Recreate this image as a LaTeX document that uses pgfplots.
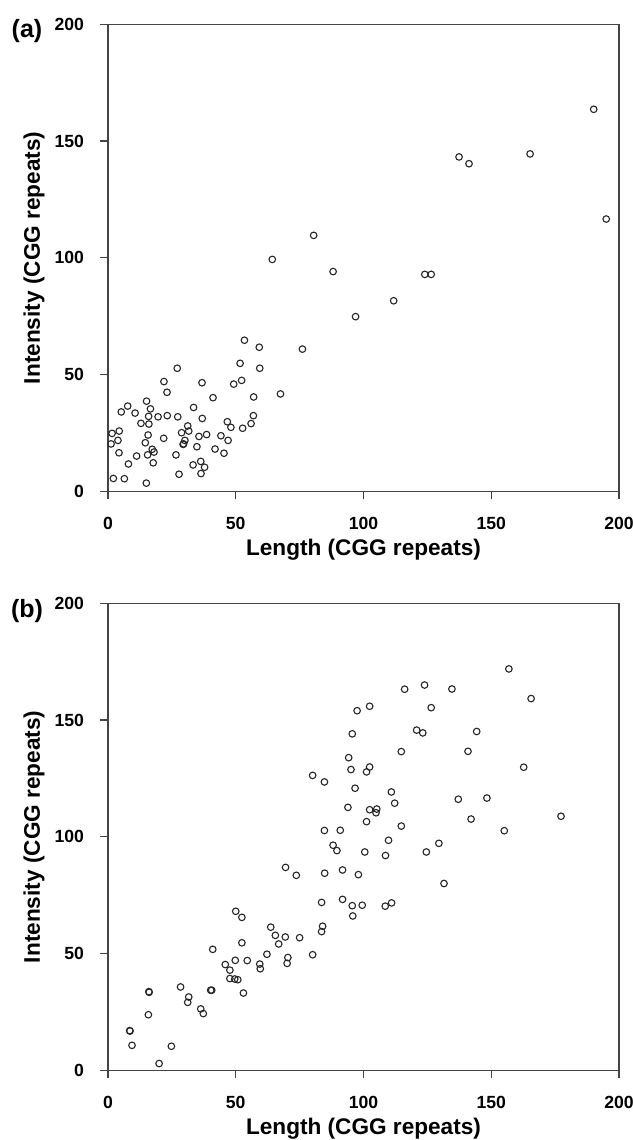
\documentclass[border=0pt]{standalone}
\usepackage{fontspec}
\setmainfont{Liberation Sans}
\usepackage{pgfplots}
\pgfplotsset{compat=1.18}
\definecolor{framegray}{HTML}{444444}

\pgfplotsset{
  cggpanel/.style={
    scale only axis,
    width=255.5pt, height=233.5pt,
    xmin=0, xmax=200, ymin=0, ymax=200,
    xtick={0,50,100,150,200}, ytick={0,50,100,150,200},
    xtick pos=left, ytick pos=left,
    tick align=outside, major tick length=4pt,
    axis line style={framegray, line width=0.6pt},
    every tick/.style={framegray, line width=0.6pt},
    /pgf/number format/assume math mode=true,
    tick label style={font=\fontsize{8.8}{10}\selectfont\bfseries},
    xticklabel style={anchor=base, yshift=-15.2pt},
    yticklabel style={anchor=east, xshift=-4.5pt},
    label style={font=\fontsize{11.3}{13}\selectfont\bfseries},
    xlabel style={at={(axis description cs:0.5,-0.1366)}, anchor=base},
    ylabel style={at={(axis description cs:-0.1331,0.5)}, anchor=base},
    xlabel={Length (CGG repeats)},
    ylabel={Intensity (CGG repeats)},
  },
  cggmarks/.style={only marks, mark=o, mark size=1.65pt,
    mark options={black!85, line width=0.55pt}},
}

\begin{document}
\begin{tikzpicture}
% panel (a)
\begin{axis}[cggpanel, name=pa, at={(0,0)}, anchor=south west]
\addplot[cggmarks] coordinates {
(64.3,99.3) (88.1,94.1) (96.9,74.8) (53.4,64.7) (59.2,61.7) (76.1,60.9)
(27.1,52.7) (51.7,54.8) (59.4,52.7) (21.9,47.0) (36.8,46.5) (49.2,45.9)
(52.3,47.5) (23.1,42.4) (67.5,41.7) (41.1,40.1) (57.0,40.4) (15.1,38.6)
(7.7,36.5) (16.6,35.3) (5.2,34.0) (10.6,33.5) (33.5,35.9) (15.9,32.1)
(19.6,31.9) (23.2,32.4) (27.3,31.9) (36.9,31.2) (56.9,32.4) (12.9,29.1)
(16.0,28.8) (31.2,28.0) (46.7,29.8) (48.1,27.4) (52.7,27.0) (56.0,29.0)
(1.6,24.8) (4.4,25.8) (15.7,24.1) (28.8,25.1) (31.6,25.8) (35.6,23.5)
(38.6,24.3) (44.2,23.8) (1.2,20.3) (3.9,21.8) (21.8,22.7) (14.6,20.8)
(30.1,21.8) (29.4,20.1) (29.6,20.3) (34.8,19.1) (47.0,21.8) (17.3,18.0)
(18.0,16.8) (41.9,18.1) (45.4,16.3) (4.3,16.5) (11.2,15.1) (15.5,15.6)
(26.6,15.6) (8.0,11.7) (17.7,12.2) (36.3,12.8) (33.3,11.3) (37.8,10.3)
(36.4,7.6) (27.8,7.3) (2.1,5.5) (6.4,5.4) (15.0,3.5)
(80.5,109.6) (111.8,81.6) (124.0,92.9) (126.5,92.9) (137.4,143.2)
(141.3,140.3) (165.2,144.5) (190.1,163.6) (195.0,116.6)
};
\end{axis}
\node[font=\fontsize{12.5}{14}\selectfont\bfseries] at ([xshift=-40.5pt, yshift=-3.6pt]pa.north west) {(a)};

% panel (b)
\begin{axis}[cggpanel, name=pb, at={(0,-289.5pt)}, anchor=south west]
\addplot[cggmarks] coordinates {
(156.9,171.9) (165.6,159.2) (116.1,163.2) (123.9,165.0) (134.6,163.3)
(97.5,154.0) (102.4,155.9) (126.5,155.3) (95.6,144.1) (120.8,145.7)
(123.2,144.5) (144.3,145.1) (114.8,136.5) (140.9,136.6) (94.2,133.9)
(95.1,128.8) (102.4,129.9) (101.2,127.8) (162.7,129.8) (80.1,126.3)
(84.7,123.5) (96.7,120.8) (110.9,119.2) (112.2,114.4) (137.1,116.1)
(148.3,116.6) (93.9,112.6) (102.4,111.6) (105.2,111.9) (104.9,110.3)
(101.2,106.5) (142.1,107.6) (177.3,108.8) (114.8,104.6) (155.1,102.6)
(84.7,102.7) (90.9,102.8) (109.8,98.5) (129.5,97.2) (88.1,96.4)
(89.6,94.1) (100.5,93.5) (108.6,92.0) (124.6,93.5) (69.5,86.9)
(73.7,83.5) (84.8,84.4) (91.8,85.8) (98.0,83.8) (131.5,80.0)
(83.6,71.9) (91.8,73.2) (95.6,70.5) (95.8,66.1) (99.5,70.7)
(108.5,70.3) (111.0,71.7) (50.0,68.1) (52.4,65.5) (63.7,61.3)
(65.5,57.8) (69.4,57.1) (75.0,56.8) (66.8,54.1) (84.0,61.7)
(83.6,59.4) (52.4,54.6) (41.0,51.8) (62.2,49.7) (80.1,49.5)
(70.4,48.3) (70.1,45.8) (49.8,47.1) (54.5,47.0) (45.9,45.3)
(47.7,42.9) (59.4,45.5) (59.6,43.5) (47.7,39.3) (49.6,39.1)
(50.8,38.8) (53.0,33.1) (28.4,35.7) (31.6,31.4) (31.2,29.1)
(40.2,34.3) (40.6,34.3) (16.0,33.7) (16.1,33.4) (36.3,26.3)
(37.3,24.3) (15.8,23.8) (8.5,17.0) (8.6,16.8) (9.4,10.7)
(24.8,10.3) (20.0,2.9)
};
\end{axis}
\node[font=\fontsize{12.5}{14}\selectfont\bfseries] at ([xshift=-40.5pt, yshift=-3.9pt]pb.north west) {(b)};

\pgfresetboundingbox
\path[use as bounding box] (-54pt,-324.35pt) rectangle (262pt,245.65pt);
\end{tikzpicture}
\end{document}
